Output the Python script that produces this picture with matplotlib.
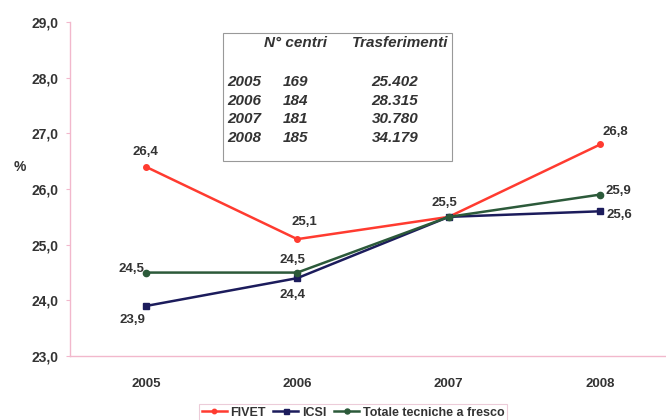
import matplotlib.pyplot as plt
from matplotlib.patches import Rectangle

plt.rcParams['font.family'] = ['Liberation Sans', 'DejaVu Sans']

# dati
anni = ['2005', '2006', '2007', '2008']
fivet = [26.4, 25.1, 25.5, 26.8]
icsi = [23.9, 24.4, 25.5, 25.6]
totale = [24.5, 24.5, 25.5, 25.9]

centri = [169, 184, 181, 185]
trasferimenti = ['25.402', '28.315', '30.780', '34.179']

# spostamento delle etichette (pixel), None = nessuna etichetta
off_fivet = [(0, 15), (7, 17), (-4, 14), (15, 12)]
off_icsi = [(-13, -14), (-5, -17), None, (19, -4)]
off_totale = [(-14, 4), (-5, 13), None, (18, 4)]

col_fivet = '#ff3b30'
col_icsi = '#1c1c5c'
col_totale = '#2c5a3a'
col_testo = '#333333'
col_asse = '#f2b8cc'

fig = plt.figure(figsize=(6.66, 4.2), dpi=100)
ax = fig.add_axes([70 / 666, 0.152, 606 / 666, 0.796])

x = range(len(anni))
ax.plot(x, fivet, color=col_fivet, lw=1.8, marker='o', ms=4, label='FIVET')
ax.plot(x, icsi, color=col_icsi, lw=1.8, marker='s', ms=4.5, label='ICSI')
ax.plot(x, totale, color=col_totale, lw=1.8, marker='o', ms=4.5,
        label='Totale tecniche a fresco')


def etichette(valori, offsets):
    for i, v in enumerate(valori):
        if offsets[i] is None:
            continue
        ax.annotate(f"{v:.1f}".replace('.', ','), (i, v), xytext=offsets[i],
                    textcoords='offset pixels', ha='center', va='center',
                    fontsize=9.5, fontweight='bold', color=col_testo)


etichette(fivet, off_fivet)
etichette(icsi, off_icsi)
etichette(totale, off_totale)

ax.set_xlim(-0.5, 3.5)
ax.set_ylim(23, 29)
ax.set_xticks(list(x))
ax.set_xticklabels(anni, fontsize=9.5, fontweight='bold', color=col_testo)
ax.set_yticks([23, 24, 25, 26, 27, 28, 29])
ax.set_yticklabels([f"{t:.1f}".replace('.', ',') for t in range(23, 30)],
                   fontsize=10, fontweight='bold', color=col_testo)
ax.tick_params(axis='x', length=0, pad=16)
ax.tick_params(axis='y', length=3, color=col_asse, pad=5)
for s in ['top', 'right']:
    ax.spines[s].set_visible(False)
ax.spines['left'].set_color(col_asse)
ax.spines['bottom'].set_color(col_asse)
ax.spines['left'].set_linewidth(1)
ax.spines['bottom'].set_linewidth(1)

fig.text(20 / 666, 1 - 167 / 420, '%', fontsize=10, fontweight='bold',
         color=col_testo, ha='center', va='center')

# riquadro con centri e trasferimenti
fig.patches.append(Rectangle((223 / 666, 1 - 161 / 420), 229 / 666, 128 / 420,
                             transform=fig.transFigure, fill=False,
                             edgecolor='#999999', lw=0.8))
stile = dict(fontsize=11, fontweight='bold', style='italic', color=col_testo,
             va='center')
fig.text(296 / 666, 1 - 43 / 420, 'N° centri', ha='center', **stile)
fig.text(400 / 666, 1 - 43 / 420, 'Trasferimenti', ha='center', **stile)
for i, anno in enumerate(anni):
    y = 1 - (82 + i * 18.7) / 420
    fig.text(227 / 666, y, anno, ha='left', **stile)
    fig.text(283 / 666, y, str(centri[i]), ha='left', **stile)
    fig.text(395 / 666, y, trasferimenti[i], ha='center', **stile)

leg = fig.legend(loc='upper center', bbox_to_anchor=(353 / 666, 1 - 398 / 420),
                 ncol=3, fontsize=9, frameon=True, fancybox=False,
                 handlelength=2.0, handletextpad=0.3, columnspacing=0.6,
                 borderpad=0.2, markerscale=0.8)
leg.get_frame().set_edgecolor('#e8c0d0')
leg.get_frame().set_linewidth(0.8)
for t in leg.get_texts():
    t.set_fontweight('bold')
    t.set_color(col_testo)

fig.savefig('out.png', dpi=100)
